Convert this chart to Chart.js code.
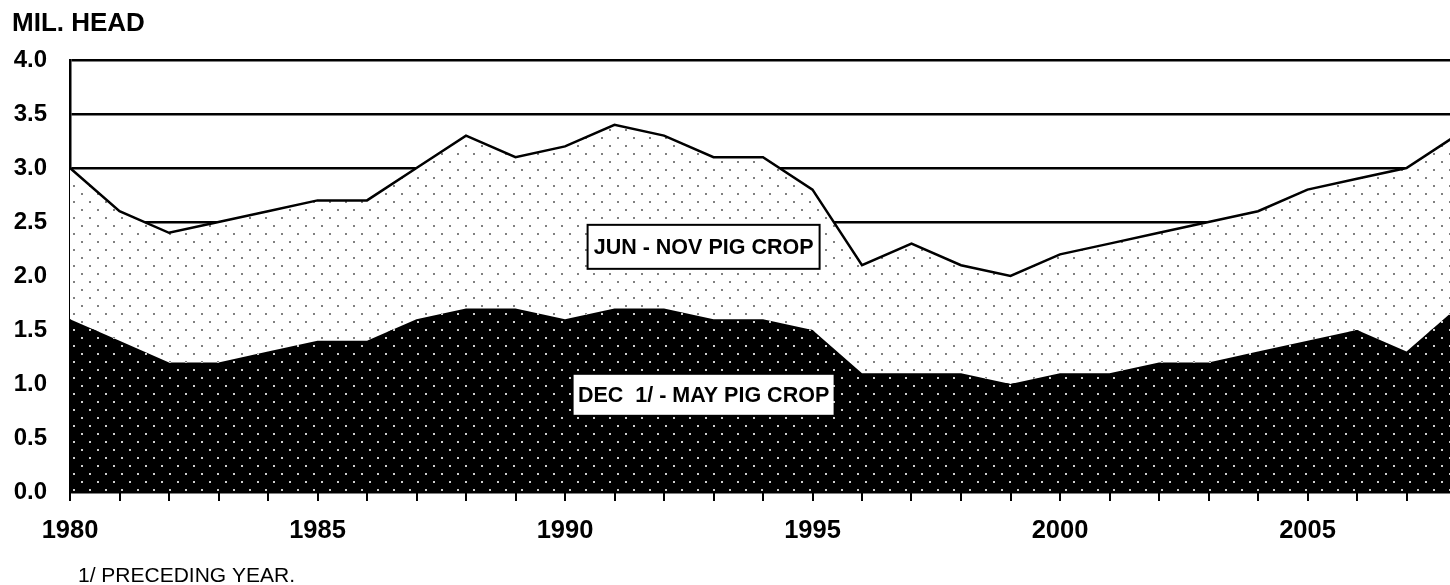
<!DOCTYPE html>
<html>
<head>
<meta charset="utf-8">
<script src="https://cdn.jsdelivr.net/npm/chart.js@4"></script>
<style>
  body { margin: 0; background: #fff; overflow: hidden; }
  canvas { display: block; }
</style>
</head>
<body>
<canvas id="myChart" width="1458" height="585"></canvas>
<script>
// years 1980..2008, million head
var years = ['1980','1981','1982','1983','1984','1985','1986','1987','1988','1989',
             '1990','1991','1992','1993','1994','1995','1996','1997','1998','1999',
             '2000','2001','2002','2003','2004','2005','2006','2007','2008'];
var decMayCrop = [1.6, 1.4, 1.2, 1.2, 1.3, 1.4, 1.4, 1.6, 1.7, 1.7,
                  1.6, 1.7, 1.7, 1.6, 1.6, 1.5, 1.1, 1.1, 1.1, 1.0,
                  1.1, 1.1, 1.2, 1.2, 1.3, 1.4, 1.5, 1.3, 1.7];
var junNovCrop = [1.4, 1.2, 1.2, 1.3, 1.3, 1.3, 1.3, 1.4, 1.6, 1.4,
                  1.6, 1.7, 1.6, 1.5, 1.5, 1.3, 1.0, 1.2, 1.0, 1.0,
                  1.1, 1.2, 1.2, 1.3, 1.3, 1.4, 1.4, 1.7, 1.6];
var yTicks = [0, 0.5, 1.0, 1.5, 2.0, 2.5, 3.0, 3.5, 4.0];

let makeDots = function(bg, dot){
    var c = document.createElement('canvas');
    c.width = 16; c.height = 16;
    var g = c.getContext('2d');
    g.fillStyle = bg;
    g.fillRect(0, 0, 16, 16);
    g.fillStyle = dot;
    g.fillRect(1, 1, 2, 2);
    g.fillRect(9, 9, 2, 2);
    return document.getElementById('myChart').getContext('2d').createPattern(c, 'repeat');
}

var darkDots = makeDots('#000', '#cfcfcf');
var lightDots = makeDots('#fff', '#808080');

// text boxes + title + footnote
var labelsPlugin = {
    id: 'labels',
    afterDatasetsDraw: function(chart){
        var ctx = chart.ctx;
        var x = chart.scales.x, y = chart.scales.y;
        ctx.save();
        ctx.textAlign = 'center';
        ctx.textBaseline = 'middle';
        ctx.font = 'bold 21.5px "Liberation Sans", Arial, sans-serif';

        // JUN - NOV box
        var cx = x.getPixelForValue(12.8), cy = y.getPixelForValue(2.27);
        ctx.fillStyle = '#fff';
        ctx.fillRect(cx - 116, cy - 22, 232, 44);
        ctx.lineWidth = 2;
        ctx.strokeStyle = '#000';
        ctx.strokeRect(cx - 116, cy - 22, 232, 44);
        ctx.fillStyle = '#000';
        ctx.fillText('JUN - NOV PIG CROP', cx, cy + 1);

        // DEC - MAY box
        cy = y.getPixelForValue(0.9);
        ctx.fillStyle = '#fff';
        ctx.fillRect(cx - 130, cy - 20, 260, 40);
        ctx.fillStyle = '#000';
        ctx.fillText('DEC  1/ - MAY PIG CROP', cx, cy + 1);

        ctx.textAlign = 'left';
        ctx.textBaseline = 'alphabetic';
        ctx.font = 'bold 26px "Liberation Sans", Arial, sans-serif';
        ctx.fillText('MIL. HEAD', 12, 31);
        ctx.font = '21px "Liberation Sans", Arial, sans-serif';
        ctx.fillText('1/ PRECEDING YEAR.', 78, 582);
        ctx.restore();
    }
};

var ctx = document.getElementById('myChart').getContext('2d');
var chart = new Chart(ctx, {
    type: 'line',
    data: {
        labels: years,
        datasets: [{
            label: 'DEC 1/ - MAY PIG CROP',
            data: decMayCrop,
            backgroundColor: darkDots,
            borderColor: '#000',
            borderWidth: 0,
            fill: 'origin',
            pointRadius: 0,
            tension: 0
        }, {
            label: 'JUN - NOV PIG CROP',
            data: junNovCrop,
            backgroundColor: lightDots,
            borderColor: '#000',
            borderWidth: 2.5,
            fill: '-1',
            pointRadius: 0,
            tension: 0
        }]
    },
    options: {
        responsive: false,
        animation: false,
        layout: { padding: { top: 60, right: 2, left: 0, bottom: 0 } },
        plugins: {
            legend: { display: false },
            tooltip: { enabled: false }
        },
        scales: {
            x: {
                stacked: true,
                offset: false,
                afterFit: function(s){ s.height = 93; s.paddingRight = 0; },
                grid: { drawOnChartArea: false, drawTicks: true, tickLength: 9, color: '#000', lineWidth: 2 },
                border: { display: true, color: '#000', width: 2 },
                ticks: {
                    autoSkip: false,
                    maxRotation: 0,
                    padding: 15,
                    color: '#000',
                    font: { family: '"Liberation Sans", Arial, sans-serif', size: 25.5, weight: 'bold' },
                    callback: function(v, i){
                        var yr = years[i];
                        return (+yr % 5 === 0) ? yr : '';
                    }
                }
            },
            y: {
                stacked: true,
                min: 0,
                max: 4,
                afterFit: function(s){ s.width = 70; },
                afterBuildTicks: function(s){ s.ticks = yTicks.map(function(v){ return { value: v }; }); },
                grid: { drawTicks: false, color: '#000', lineWidth: 2.5 },
                border: { display: true, color: '#000', width: 2.5 },
                ticks: {
                    padding: 23,
                    color: '#000',
                    font: { family: '"Liberation Sans", Arial, sans-serif', size: 24, weight: 'bold' },
                    callback: function(v){ return v.toFixed(1); }
                }
            }
        }
    },
    plugins: [labelsPlugin]
});
</script>
</body>
</html>
